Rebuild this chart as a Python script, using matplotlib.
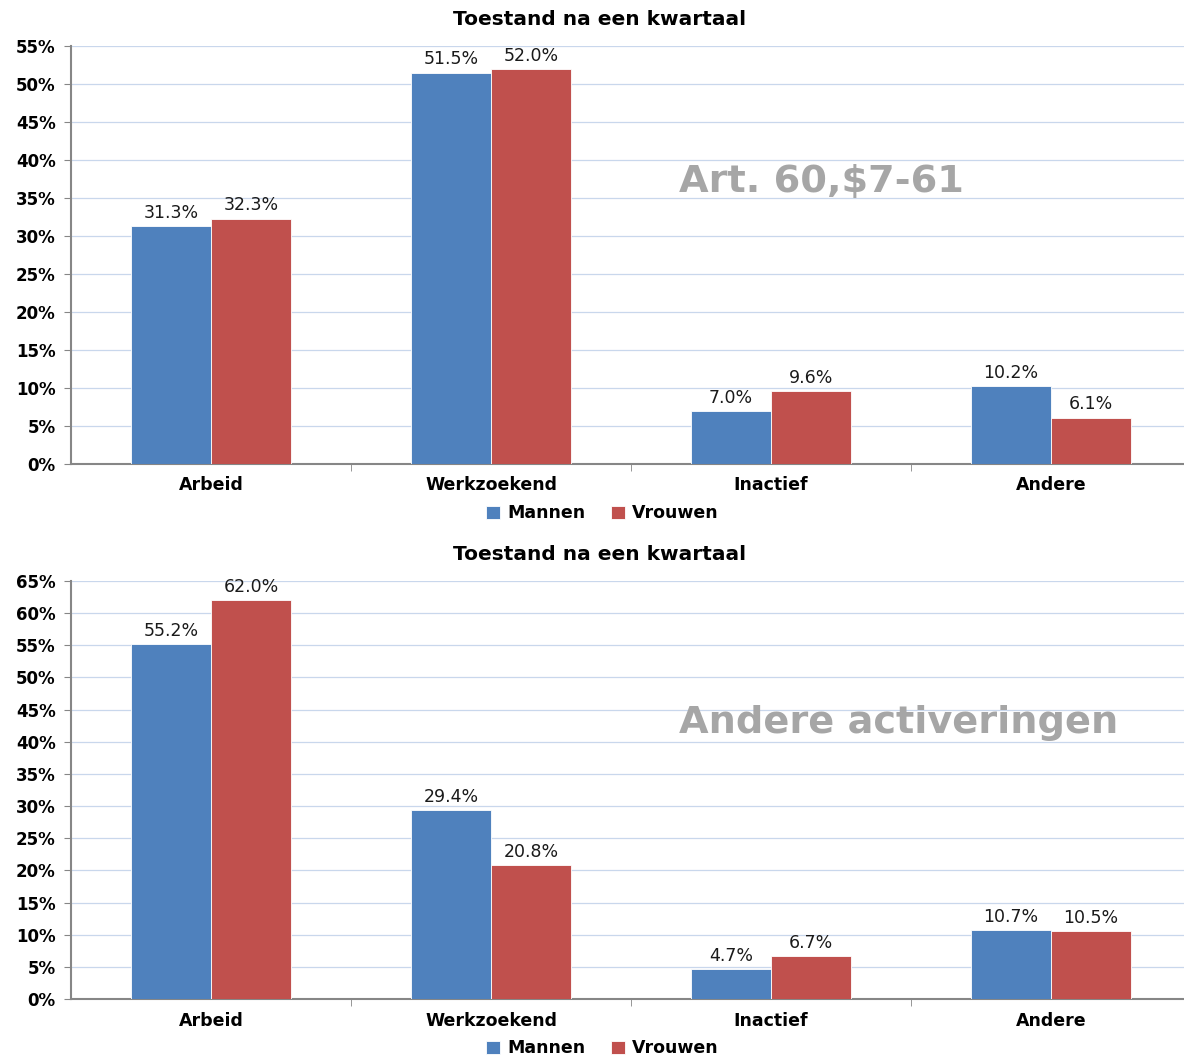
import numpy as np
import matplotlib.pyplot as plt
from matplotlib.ticker import MultipleLocator, FuncFormatter

categories = ["Arbeid", "Werkzoekend", "Inactief", "Andere"]
series = ["Mannen", "Vrouwen"]

# Art. 60,$7-61
top_mannen = [31.3, 51.5, 7.0, 10.2]
top_vrouwen = [32.3, 52.0, 9.6, 6.1]

# Andere activeringen
bottom_mannen = [55.2, 29.4, 4.7, 10.7]
bottom_vrouwen = [62.0, 20.8, 6.7, 10.5]

title = "Toestand na een kwartaal"
colors = ["#4F81BD", "#C0504D"]

plt.rcParams["font.family"] = "DejaVu Sans"

fig = plt.figure(figsize=(11.84, 10.55), dpi=100)


def draw(ax, mannen, vrouwen, ymax, overlay, overlay_y, legend_y):
    x = np.arange(len(categories))
    w = 0.2857
    b1 = ax.bar(x - w / 2, mannen, w, color=colors[0], edgecolor="white",
                linewidth=0.6, label=series[0], zorder=3)
    b2 = ax.bar(x + w / 2, vrouwen, w, color=colors[1], edgecolor="white",
                linewidth=0.6, label=series[1], zorder=3)
    for bars in (b1, b2):
        for r in bars:
            h = r.get_height()
            ax.text(r.get_x() + r.get_width() / 2, h + ymax * 0.01,
                    f"{h:.1f}%", ha="center", va="bottom", fontsize=12.5,
                    color="#1a1a1a")

    ax.set_xlim(-0.5, 3.5)
    ax.set_ylim(0, ymax)
    ax.yaxis.set_major_locator(MultipleLocator(5))
    ax.yaxis.set_major_formatter(FuncFormatter(lambda v, p: f"{v:.0f}%"))
    ax.grid(axis="y", color="#C9D7EC", linewidth=0.9, zorder=0)
    ax.set_axisbelow(True)

    ax.set_xticks(x)
    ax.set_xticklabels(categories, fontsize=12.5, fontweight="bold")
    ax.set_xticks([0.5, 1.5, 2.5], minor=True)
    ax.tick_params(axis="x", which="major", length=0, pad=9)
    ax.tick_params(axis="x", which="minor", length=5, color="#868686")
    ax.tick_params(axis="y", length=5, color="#868686", labelsize=12, pad=6)
    for lab in ax.get_yticklabels():
        lab.set_fontweight("bold")

    for s in ("top", "right"):
        ax.spines[s].set_visible(False)
    for s in ("left", "bottom"):
        ax.spines[s].set_color("#868686")
        ax.spines[s].set_linewidth(1.5)

    ax.set_title(title, fontsize=14.5, fontweight="bold", pad=15, x=0.472)
    ax.text(0.543, overlay_y, overlay, transform=ax.transAxes, fontsize=27.5,
            fontweight="bold", color="#A6A6A6", ha="left", va="center")

    ax.legend(loc="center", bbox_to_anchor=(0.4745, legend_y), ncol=2,
              frameon=False, handlelength=0.8, handleheight=0.8,
              handletextpad=0.4, columnspacing=1.5,
              prop={"weight": "bold", "size": 12.5})


ax1 = fig.add_axes([71 / 1184, 591 / 1055, 1120 / 1184, 418 / 1055])
draw(ax1, top_mannen, top_vrouwen, 55, "Art. 60,$7-61", 0.675, -0.118)

ax2 = fig.add_axes([71 / 1184, 56 / 1055, 1120 / 1184, 418 / 1055])
draw(ax2, bottom_mannen, bottom_vrouwen, 65, "Andere activeringen", 0.66, -0.118)

fig.savefig("out.png", dpi=100)
